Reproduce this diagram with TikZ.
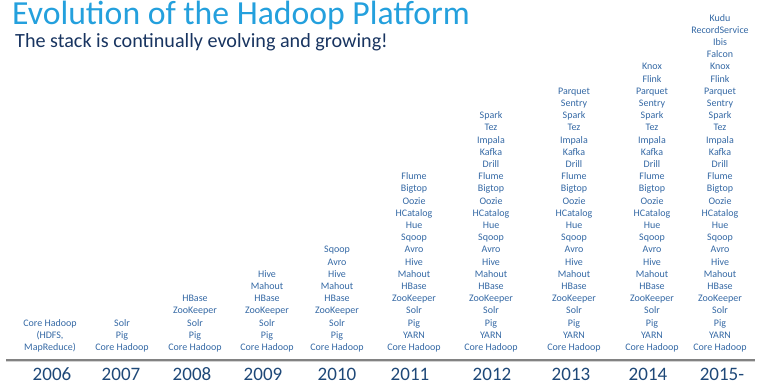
\documentclass[tikz,border=0pt]{standalone}
\usepackage{fontspec}
\setmainfont{Carlito}
\definecolor{titleblue}{RGB}{36,160,221}
\definecolor{subnavy}{RGB}{24,52,96}
\definecolor{itemblue}{RGB}{52,104,164}
\definecolor{yearblue}{RGB}{30,72,120}
\definecolor{rulegray}{RGB}{130,130,130}
\tikzset{
  item/.style={text=itemblue, font=\fontsize{10}{12}\selectfont, anchor=base, inner sep=0pt},
  yearlbl/.style={text=yearblue, font=\fontsize{19}{22}\selectfont, anchor=base, inner sep=0pt},
}
\begin{document}
\begin{tikzpicture}[x=1pt,y=-1pt]
\useasboundingbox (0,0) rectangle (760,385);
\node[anchor=base west, inner sep=0pt, text=titleblue, font=\fontsize{33.7}{36}\selectfont] (title) at (12,25) {Evolution of the Hadoop Platform};
\node[anchor=base west, inner sep=0pt, text=subnavy, font=\fontsize{20.15}{24}\selectfont] (subtitle) at (15,48) {The stack is continually evolving and growing!};
% rule
\draw[line width=2pt, rulegray] (6,359.5) coordinate (rl) -- (755,359.5) coordinate (rr);
\draw[line width=1pt, rulegray!35] (6,361.5) -- (755,361.5);
% columns (bottom-up)
\node[item] (c2006-0) at (50,350.5) {MapReduce)};
\node[item] (c2006-1) at (50,338.3) {(HDFS,};
\node[item] (c2006-2) at (50,326.1) {Core Hadoop};
\foreach \t [count=\i from 0] in {Core Hadoop, Pig, Solr}
  \node[item] (c2007-\i) at (122,{350.5-12.2*\i}) {\t};
\foreach \t [count=\i from 0] in {Core Hadoop, Pig, Solr, ZooKeeper, HBase}
  \node[item] (c2008-\i) at (195,{350.5-12.2*\i}) {\t};
\foreach \t [count=\i from 0] in {Core Hadoop, Pig, Solr, ZooKeeper, HBase, Mahout, Hive}
  \node[item] (c2009-\i) at (267,{350.5-12.2*\i}) {\t};
\foreach \t [count=\i from 0] in {Core Hadoop, Pig, Solr, ZooKeeper, HBase, Mahout, Hive, Avro, Sqoop}
  \node[item] (c2010-\i) at (337,{350.5-12.2*\i}) {\t};
\foreach \t [count=\i from 0] in {Core Hadoop, YARN, Pig, Solr, ZooKeeper, HBase, Mahout, Hive, Avro, Sqoop, Hue, HCatalog, Oozie, Bigtop, Flume}
  \node[item] (c2011-\i) at (414,{350.5-12.2*\i}) {\t};
\foreach \t [count=\i from 0] in {Core Hadoop, YARN, Pig, Solr, ZooKeeper, HBase, Mahout, Hive, Avro, Sqoop, Hue, HCatalog, Oozie, Bigtop, Flume, Drill, Kafka, Impala, Tez, Spark}
  \node[item] (c2012-\i) at (491,{350.5-12.2*\i}) {\t};
\foreach \t [count=\i from 0] in {Core Hadoop, YARN, Pig, Solr, ZooKeeper, HBase, Mahout, Hive, Avro, Sqoop, Hue, HCatalog, Oozie, Bigtop, Flume, Drill, Kafka, Impala, Tez, Spark, Sentry, Parquet}
  \node[item] (c2013-\i) at (574,{350.5-12.2*\i}) {\t};
\foreach \t [count=\i from 0] in {Core Hadoop, YARN, Pig, Solr, ZooKeeper, HBase, Mahout, Hive, Avro, Sqoop, Hue, HCatalog, Oozie, Bigtop, Flume, Drill, Kafka, Impala, Tez, Spark, Sentry, Parquet, Flink, Knox}
  \node[item] (c2014-\i) at (652,{350.5-12.2*\i}) {\t};
\foreach \t [count=\i from 0] in {Core Hadoop, YARN, Pig, Solr, ZooKeeper, HBase, Mahout, Hive, Avro, Sqoop, Hue, HCatalog, Oozie, Bigtop, Flume, Drill, Kafka, Impala, Tez, Spark, Sentry, Parquet, Flink, Knox, Falcon, Ibis, RecordService, Kudu}
  \node[item] (c2015-\i) at (720,{350.5-12.2*\i}) {\t};
% years
\node[yearlbl] (y2006) at (52,380.5) {2006};
\node[yearlbl] (y2007) at (121,380.5) {2007};
\node[yearlbl] (y2008) at (192,380.5) {2008};
\node[yearlbl] (y2009) at (263,380.5) {2009};
\node[yearlbl] (y2010) at (337,380.5) {2010};
\node[yearlbl] (y2011) at (410,380.5) {2011};
\node[yearlbl] (y2012) at (492,380.5) {2012};
\node[yearlbl] (y2013) at (571,380.5) {2013};
\node[yearlbl] (y2014) at (648,380.5) {2014};
\node[yearlbl] (y2015) at (722,380.5) {2015-};
\end{tikzpicture}
\end{document}
